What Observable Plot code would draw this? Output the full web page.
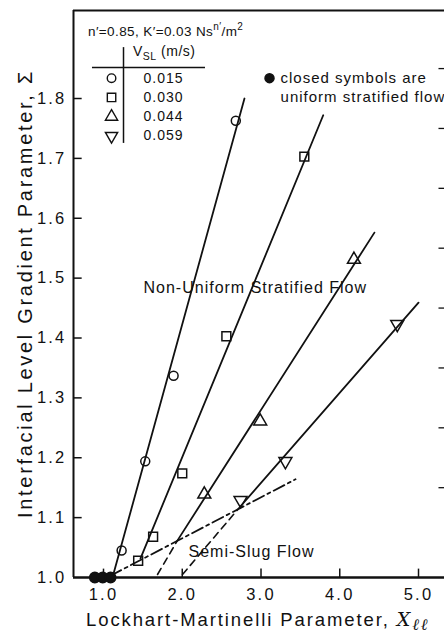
<!DOCTYPE html>
<html><head><meta charset="utf-8">
<script src="https://cdn.jsdelivr.net/npm/d3@7"></script>
<script src="https://cdn.jsdelivr.net/npm/@observablehq/plot@0.6"></script>
<style>
html,body{margin:0;padding:0;background:#fff;overflow:hidden}
#chart{position:relative;width:444px;height:637px}
</style></head><body><div id="chart"></div>
<script>
// ---- data ----
const seriesLabels = ["0.015", "0.030", "0.044", "0.059"]; // V_SL (m/s)
const circleX = [1.23, 1.53, 1.89, 2.68];
const circleS = [1.045, 1.194, 1.337, 1.763];
const squareX = [1.44, 1.63, 2.00, 2.56, 3.55];
const squareS = [1.028, 1.068, 1.174, 1.403, 1.703];
const triUpX = [2.28, 2.99, 4.18];
const triUpS = [1.139, 1.261, 1.531];
const triDownX = [2.74, 3.31, 4.73];
const triDownS = [1.129, 1.194, 1.423];
const closedX = [0.89, 0.99, 1.09];
const closedS = [1.0, 1.0, 1.0];
// fitted lines (end points)
const circleLineX = [1.114, 2.79], circleLineS = [1.0, 1.8];
const squareLineX = [1.47, 3.79], squareLineS = [1.032, 1.772];
const triUpLineX = [1.94, 4.44], triUpLineS = [1.062, 1.576];
const triUpDashX = [1.686, 1.94], triUpDashS = [1.005, 1.062];
const triDownLineX = [2.74, 5.0], triDownLineS = [1.119, 1.459];
const triDownDashX = [2.003, 2.74], triDownDashS = [1.005, 1.119];
const boundaryX = [1.089, 3.438], boundaryS = [1.003, 1.164];
// axes
const xTicks = [1, 2, 3, 4, 5];
const yTicks = [1.0, 1.1, 1.2, 1.3, 1.4, 1.5, 1.6, 1.7, 1.8];
const yRightTicks = [1.15, 1.25, 1.35, 1.45, 1.55, 1.65, 1.75, 1.85];

const pts = (xs, ys) => xs.map((x, i) => ({x, y: ys[i]}));
const sqrt3 = Math.sqrt(3);
const triangleDown = {
  draw(ctx, size) {
    const y = Math.sqrt(size / (sqrt3 * 3));
    ctx.moveTo(0, y * 2);
    ctx.lineTo(-sqrt3 * y, -y);
    ctx.lineTo(sqrt3 * y, -y);
    ctx.closePath();
  }
};
const symbols = ["circle", "square", "triangle", triangleDown];
const symR = [4.5, 5, 4.8, 4.8];

const xmin = 0.619, xmax = 5.33;
const ymin = 1.0, ymax = 1.947;
const FONT = "Liberation Sans, Arial, Helvetica, sans-serif";
const lineOpts = {x: "x", y: "y", stroke: "#111", strokeWidth: 1.8};
const dotOpts = (i) => ({x: "x", y: "y", symbol: symbols[i], r: symR[i], stroke: "#111", strokeWidth: 1.5, fill: "none"});

const legendRowS = (i) => 1.834 - i * 0.0322;

const plot = Plot.plot({
  width: 444,
  height: 637,
  marginLeft: 73,
  marginRight: 0,
  marginTop: 10,
  marginBottom: 60,
  style: {fontFamily: FONT, fontSize: "16.5px", color: "#111", background: "#fff"},
  x: {domain: [xmin, xmax], ticks: xTicks, tickFormat: d3.format(".1f"), tickSize: 0, tickPadding: 11, label: null},
  y: {domain: [ymin, ymax], ticks: yTicks, tickFormat: d3.format(".1f"), tickSize: 0, tickPadding: 7, label: null},
  marks: [
    // frame
    Plot.ruleY([ymax], {stroke: "#111", strokeWidth: 2}),
    Plot.ruleX([xmin], {stroke: "#111", strokeWidth: 2}),
    Plot.ruleY([ymin], {stroke: "#111", strokeWidth: 2.5}),
    Plot.ruleY(yTicks.slice(1), {x1: xmin, x2: xmin + 0.11, stroke: "#111", strokeWidth: 1.5}),
    Plot.ruleX(xTicks, {y1: ymin, y2: ymin + 0.014, stroke: "#111", strokeWidth: 1.5}),
    Plot.ruleY(yRightTicks, {x1: 5.26, x2: xmax, stroke: "#111", strokeWidth: 1.3}),
    // fitted lines
    Plot.line(pts(circleLineX, circleLineS), lineOpts),
    Plot.line(pts(squareLineX, squareLineS), lineOpts),
    Plot.line(pts(triUpLineX, triUpLineS), lineOpts),
    Plot.line(pts(triDownLineX, triDownLineS), lineOpts),
    Plot.line(pts(triUpDashX, triUpDashS), {...lineOpts, strokeWidth: 1.6, strokeDasharray: "7,5"}),
    Plot.line(pts(triDownDashX, triDownDashS), {...lineOpts, strokeWidth: 1.6, strokeDasharray: "7,5"}),
    Plot.line(pts(boundaryX, boundaryS), {...lineOpts, strokeWidth: 1.8, strokeDasharray: "12,4,3,4"}),
    // data symbols
    Plot.dot(pts(circleX, circleS), dotOpts(0)),
    Plot.dot(pts(squareX, squareS), dotOpts(1)),
    Plot.dot(pts(triUpX, triUpS), dotOpts(2)),
    Plot.dot(pts(triDownX, triDownS), dotOpts(3)),
    Plot.dot(pts(closedX, closedS), {x: "x", y: "y", r: 5.2, fill: "#111", stroke: "#111"}),
    // legend table
    Plot.ruleY([1.852], {x1: 0.86, x2: 2.295, stroke: "#111", strokeWidth: 1.5}),
    Plot.ruleX([1.254], {y1: 1.725, y2: 1.885, stroke: "#111", strokeWidth: 1.5}),
    ...seriesLabels.map((s, i) => Plot.dot([s], {x: 1.102, y: legendRowS(i), symbol: symbols[i], r: symR[i] * 0.95, stroke: "#111", strokeWidth: 1.4, fill: "none"})),
    Plot.text(seriesLabels, {x: 1.508, y: (d, i) => legendRowS(i), text: d => d, textAnchor: "start", fontSize: 14}),
    Plot.dot(["closed"], {x: 3.108, y: legendRowS(0), r: 4.5, fill: "#111", stroke: "#111"}),
    Plot.text(["closed symbols are"], {x: 3.248, y: legendRowS(0), text: d => d, textAnchor: "start", fontSize: 15}),
    Plot.text(["uniform stratified flow"], {x: 3.248, y: legendRowS(1), text: d => d, textAnchor: "start", fontSize: 15}),
    // region labels
    Plot.text(["Non-Uniform Stratified Flow"], {x: 1.508, y: 1.484, text: d => d, textAnchor: "start", fontSize: 16}),
    Plot.text(["Semi-Slug Flow"], {x: 2.079, y: 1.043, text: d => d, textAnchor: "start", fontSize: 16})
  ]
});

const svg = d3.select(plot.tagName.toLowerCase() === "svg" ? plot : plot.querySelector("svg"));
svg.selectAll('[aria-label^="x-axis"] text, [aria-label^="y-axis"] text').style("letter-spacing", "2.2px");
svg.selectAll('[aria-label="text"] text').style("letter-spacing", "1px");

// header of legend table
const hdr = svg.append("text").attr("text-anchor", "start").attr("x", 88).attr("y", 36).attr("font-size", 13.5).attr("fill", "#111").style("letter-spacing", "0.4px");
hdr.append("tspan").text("n′=0.85, K′=0.03 Ns");
hdr.append("tspan").attr("dy", -6).attr("font-size", 10).text("n′");
hdr.append("tspan").attr("dy", 6).text("/m");
hdr.append("tspan").attr("dy", -6).attr("font-size", 10).text("2");
const vsl = svg.append("text").attr("text-anchor", "start").attr("x", 133).attr("y", 56).attr("font-size", 14).attr("fill", "#111").style("letter-spacing", "0.5px");
vsl.append("tspan").text("V");
vsl.append("tspan").attr("dy", 4).attr("font-size", 10.5).text("SL");
vsl.append("tspan").attr("dy", -4).text(" (m/s)");

// axis titles
const xt = svg.append("text").attr("text-anchor", "start").attr("x", 86).attr("y", 626).attr("font-size", 18.5).attr("fill", "#111").style("letter-spacing", "1.9px");
xt.append("tspan").text("Lockhart-Martinelli Parameter, ");
xt.append("tspan").attr("font-style", "italic").attr("font-family", "DejaVu Serif, serif").attr("font-size", 19).text("X");
xt.append("tspan").attr("dy", 4).attr("font-size", 16).attr("font-style", "italic").attr("font-family", "DejaVu Serif, serif").text("ℓℓ");
svg.append("text").attr("text-anchor", "start").attr("transform", "translate(32,518) rotate(-90)").attr("font-size", 20).attr("fill", "#111")
  .style("letter-spacing", "2.7px").text("Interfacial Level Gradient Parameter, Σ");

document.getElementById("chart").appendChild(plot);
</script></body></html>
